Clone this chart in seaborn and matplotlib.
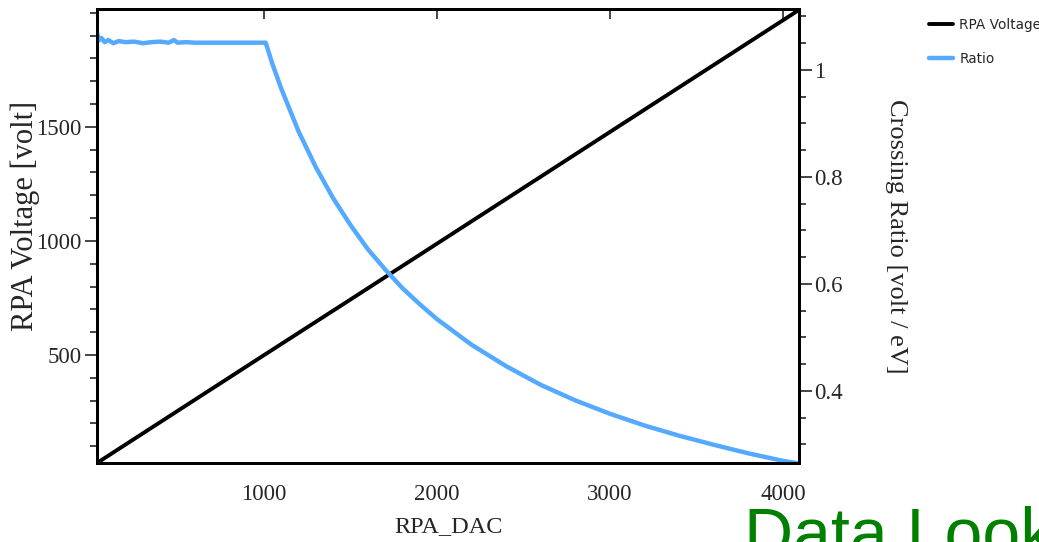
import numpy as np
import pandas as pd
import matplotlib
matplotlib.use("Agg")
import matplotlib.pyplot as plt
from matplotlib.ticker import MultipleLocator, NullFormatter
import seaborn as sns

# ---- data ----
volt_dac = [35, 500, 1000, 1500, 2000, 2500, 3000, 3500, 4092]
volt_val = [26, 254, 499, 743, 988, 1233, 1478, 1723, 2013]

ratio_dac = [35, 45, 60, 80, 100, 130, 160, 200, 250, 300, 350, 400, 450, 480,
             500, 550, 600, 700, 800, 900, 1010,
             1050, 1100, 1150, 1200, 1300, 1400, 1500, 1600, 1700, 1800, 1900,
             2000, 2200, 2400, 2600, 2800, 3000, 3200, 3400, 3600, 3800, 4000, 4092]
ratio_val = [1.07, 1.055, 1.06, 1.052, 1.056, 1.05, 1.054, 1.052, 1.053, 1.05,
             1.052, 1.053, 1.051, 1.056, 1.051, 1.052, 1.051, 1.051, 1.051, 1.051, 1.051,
             1.01, 0.965, 0.925, 0.885, 0.818, 0.76, 0.71, 0.665, 0.627, 0.592, 0.562,
             0.534, 0.486, 0.446, 0.411, 0.382, 0.357, 0.335, 0.316, 0.299, 0.283, 0.269, 0.264]

series_labels = ["RPA Voltage", "Ratio"]
x_ticks = [1000, 2000, 3000, 4000]
y_left_ticks = [500, 1000, 1500]
y_right_ticks = [0.4, 0.6, 0.8, 1.0]
y_right_ticklabels = ["0.4", "0.6", "0.8", "1"]
x_label = "RPA_DAC"
y_left_label = "RPA Voltage [volt]"
y_right_label = "Crossing Ratio [volt / eV]"
footer_text = "Data Look"

df_v = pd.DataFrame({"dac": volt_dac, "v": volt_val})
df_r = pd.DataFrame({"dac": ratio_dac, "r": ratio_val})

sns.set_style("white")
plt.rcParams["font.family"] = ["Liberation Serif", "DejaVu Serif"]

W, H = 1039, 542
fig = plt.figure(figsize=(W / 100, H / 100), dpi=100)
ax = fig.add_axes([97 / W, (H - 463) / H, (799 - 97) / W, (463 - 9) / H])
ax2 = ax.twinx()

blue = "#55aaff"
sns.lineplot(data=df_v, x="dac", y="v", ax=ax, color="black", lw=2.8,
             label=series_labels[0], legend=False)
sns.lineplot(data=df_r, x="dac", y="r", ax=ax2, color=blue, lw=3.2,
             label=series_labels[1], legend=False)

ax.set_xlim(35, 4092)
ax.set_ylim(26, 2017)
ax2.set_ylim(0.265, 1.114)

for a in (ax, ax2):
    for s in a.spines.values():
        s.set_linewidth(2.0)
        s.set_color("black")

ax.set_xticks(x_ticks)
ax.xaxis.set_minor_locator(MultipleLocator(200))
ax.set_yticks(y_left_ticks)
ax.yaxis.set_minor_locator(MultipleLocator(100))
ax2.set_yticks(y_right_ticks)
ax2.set_yticklabels(y_right_ticklabels)
ax2.yaxis.set_minor_locator(MultipleLocator(0.05))

ax.tick_params(axis="x", which="major", direction="inout", length=14, width=1.2,
               labelsize=16.5, pad=8, top=False)
ax.tick_params(axis="x", which="minor", direction="out", length=6, width=1.2, top=False)
ax.tick_params(axis="y", which="major", direction="out", length=9, width=1.2,
               labelsize=16.5, pad=2)
ax.tick_params(axis="y", which="minor", direction="out", length=5, width=1.2)
ax2.tick_params(axis="y", which="major", direction="out", length=9, width=1.2,
                labelsize=16.5, pad=2)
ax2.tick_params(axis="y", which="minor", direction="out", length=5, width=1.2)

# top axis: short inward major ticks only
sec = ax.secondary_xaxis("top")
sec.set_xticks(x_ticks)
sec.xaxis.set_major_formatter(NullFormatter())
sec.tick_params(axis="x", which="major", direction="in", length=7, width=1.2)
sec.tick_params(axis="x", which="minor", length=0)
sec.spines["top"].set_linewidth(2.0)

ax.set_xlabel(x_label, fontsize=17.5, labelpad=8)
ax.set_ylabel(y_left_label, fontsize=22)
ax.yaxis.set_label_coords((40 - 97) / 702, (463 - 216) / 454)
ax2.set_ylabel(y_right_label, fontsize=19, rotation=-90, labelpad=46)

# legend outside on the right
handles = ax.get_lines()[:1] + ax2.get_lines()[:1]
fig.legend(handles, series_labels, loc="upper left", bbox_to_anchor=(917 / W, 1 - 6 / H),
           frameon=False, handlelength=1.75, handletextpad=0.45, labelspacing=1.45,
           prop={"family": "DejaVu Sans", "size": 9.8})

fig.text(744 / W, 1 - 506 / H, footer_text, color="#008000", fontsize=49,
         family="Liberation Sans", va="top", ha="left")

fig.savefig("out.png", dpi=100)
